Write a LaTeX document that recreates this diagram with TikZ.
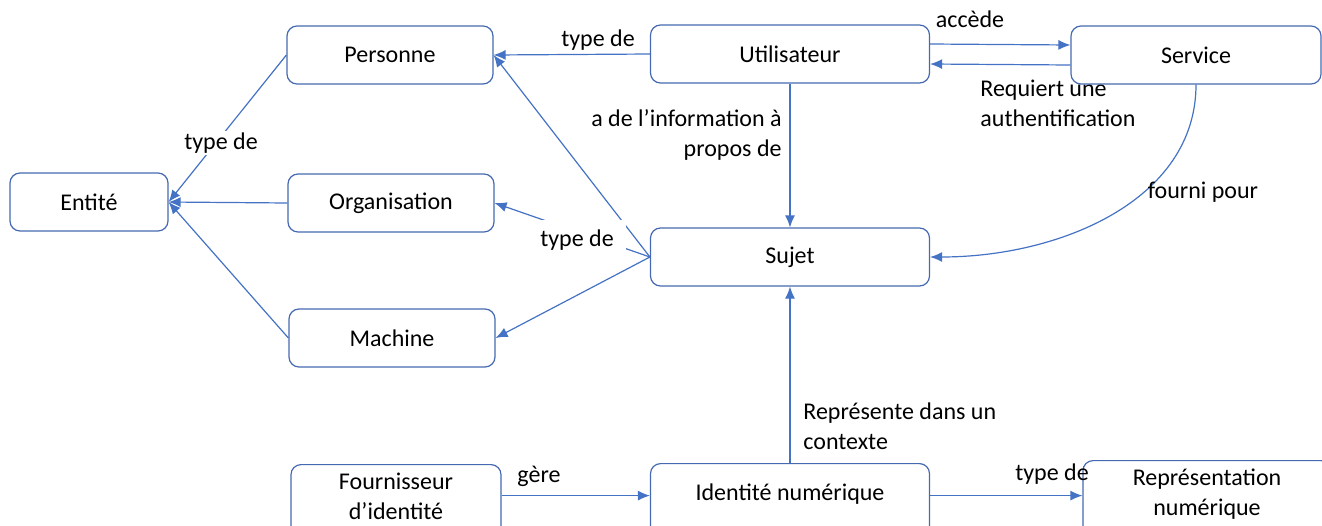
\documentclass[tikz,border=0pt]{standalone}
\usepackage{fontspec}
\setmainfont{Carlito}
\usetikzlibrary{arrows.meta}

\definecolor{boxblue}{RGB}{70,106,178}
\definecolor{linkblue}{RGB}{68,114,196}

\tikzset{
  box/.style={draw=boxblue, fill=white, rounded corners=5pt, minimum height=29pt,
    inner ysep=1pt, align=center, font=\fontsize{12}{15}\selectfont, line width=0.6pt},
  link/.style={draw=linkblue, line width=0.6pt, -{Latex[length=6pt,width=5pt]}},
  lbl/.style={font=\fontsize{12}{15}\selectfont, inner sep=1pt},
}

\begin{document}
\begin{tikzpicture}[x=0.5pt,y=-0.5pt]
  \useasboundingbox (0,0) rectangle (1322,525);

  % label sitting under the Service box
  \node[lbl, align=left, anchor=west] (l-auth) at (978,103) {Requiert une\\authentification};

  % boxes
  \node[box, minimum width=79pt] (entite) at (89,202) {Entité};
  \node[box, minimum width=103pt] (personne) at (390,55) {Personne};
  \node[box, minimum width=103pt] (organisation) at (391,203) {Organisation};
  \node[box, minimum width=103pt] (machine) at (392,338) {Machine};
  \node[box, minimum width=139.5pt] (utilisateur) at (790,54) {Utilisateur};
  \node[box, minimum width=125pt] (service) at (1196,55) {Service};
  \node[box, minimum width=139.5pt] (sujet) at (790,257) {Sujet};
  % bottom row runs past the lower edge
  \node[box, minimum width=105pt, minimum height=37pt, text depth=5.5pt, anchor=north] (fournisseur) at (396,464) {Fournisseur\\d’identité};
  \node[box, minimum width=139.5pt, minimum height=37pt, text depth=8.5pt, anchor=north] (identite) at (790,463) {Identité numérique};
  \node[box, minimum width=124pt, minimum height=39pt, text depth=7pt, anchor=north, fill=none] (representation) at (1207,460) {Représentation\\numérique};

  % connectors
  \draw[link] (personne.west) -- (entite.east);
  \draw[link] (organisation.west) -- (entite.east);
  \draw[link] (machine.west) -- (entite.east);
  \draw[link] (utilisateur.west) -- (personne.east);
  \draw[link] (sujet.west) -- (personne.east);
  \draw[link] (sujet.west) -- (organisation.east);
  \draw[link] (sujet.west) -- (machine.east);
  \draw[link] (utilisateur.south) -- (sujet.north);
  \draw[link] ([yshift=5pt]utilisateur.east) -- ([yshift=5pt]service.west);
  \draw[link] ([yshift=-5pt]service.west) -- ([yshift=-5pt]utilisateur.east);
  \draw[link] (service.south) .. controls (1196,200) and (1060,257) .. (sujet.east);
  \draw[link] (identite.north) -- (sujet.south);
  \draw[link] ([yshift=3pt]fournisseur.east) -- ([yshift=2.5pt]identite.west);
  \draw[link] ([yshift=2.5pt]identite.east) -- ([yshift=2pt]representation.west);

  % labels
  \node[lbl, fill=white, inner xsep=4pt] (l-type1) at (221,143) {type de};
  \node[lbl] (l-type2) at (598,40) {type de};
  \node[lbl, fill=white, inner xsep=6pt, inner ysep=5pt] (l-type3) at (577,240) {type de};
  \node[lbl, align=right, anchor=east] (l-info) at (784,135) {a de l’information à\\propos de};
  \node[lbl] (l-accede) at (970,19) {accède};
  \node[lbl] (l-fourni) at (1203,192) {fourni pour};
  \node[lbl, align=left, anchor=west] (l-contexte) at (801,426) {Représente dans un\\contexte};
  \node[lbl] (l-gere) at (539,476) {gère};
  \node[lbl] (l-type4) at (1052,474) {type de};
\end{tikzpicture}
\end{document}
